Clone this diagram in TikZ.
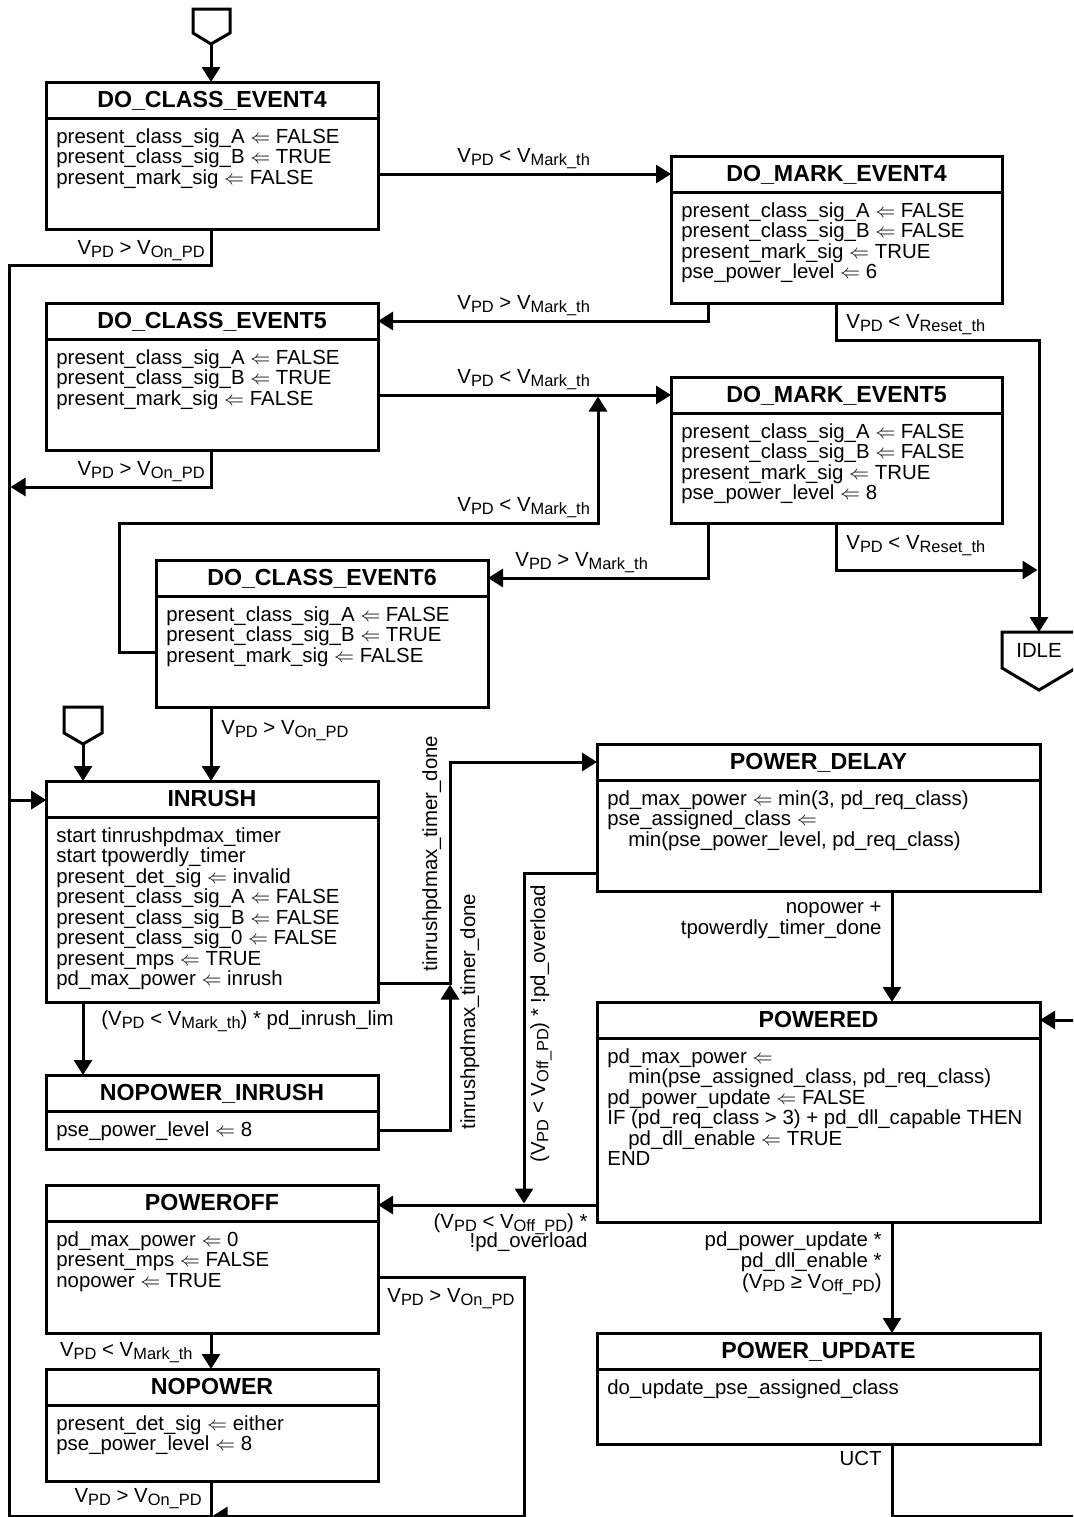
\documentclass[tikz,border=0pt]{standalone}
\usepackage{fontspec}
\setmainfont{Liberation Sans}
\usetikzlibrary{arrows.meta,calc,fit}
\newcommand{\vsb}[1]{\raisebox{-1.7pt}{\fontsize{8.2pt}{9pt}\selectfont #1}}
\newcommand{\la}{$\Leftarrow$}
\newcommand{\ind}{\hspace*{10.5pt}}
\tikzset{
 con/.style={line width=1.5pt},
 arr/.style={line width=1.5pt, -{Triangle[length=7.5pt,width=9pt]}},
 statebox/.style={draw, rectangle, line width=1.5pt, inner sep=0pt, outer sep=0pt},
 ttl/.style={font=\fontsize{11.6pt}{12pt}\selectfont\bfseries, inner sep=0pt},
 bdy/.style={font=\fontsize{10.2pt}{10.25pt}\selectfont, align=left, inner sep=0pt},
 lbl/.style={font=\fontsize{10.2pt}{10.25pt}\selectfont, inner sep=0pt},
}
\newcommand{\mkstate}[7]{%
  \node[statebox, fit={(#2,#3) (#4,#5)}] (#1) {};
  \draw[con] ($(#1.north west)+(0,36.5)$) -- ($(#1.north east)+(0,36.5)$);
  \node[ttl, anchor=base] (#1-t) at ($(#1.north)+(0,25)$) {#6};
  \node[bdy, anchor=north west] (#1-b) at ($(#1.north west)+(10,46)$) {#7};
}
\begin{document}
\begin{tikzpicture}[x=0.5pt,y=-0.5pt]
\useasboundingbox (0,0) rectangle (1073,1517);
\fill[white] (0,0) rectangle (1073,1517);
\clip (0,0) rectangle (1073,1517);

% states
\mkstate{dce4}{46}{82}{378}{229}{DO\_CLASS\_EVENT4}{present\_class\_sig\_A \la{} FALSE\\present\_class\_sig\_B \la{} TRUE\\present\_mark\_sig \la{} FALSE}
\mkstate{dce5}{46}{303}{378}{450}{DO\_CLASS\_EVENT5}{present\_class\_sig\_A \la{} FALSE\\present\_class\_sig\_B \la{} TRUE\\present\_mark\_sig \la{} FALSE}
\mkstate{dme4}{671}{156}{1002}{303}{DO\_MARK\_EVENT4}{present\_class\_sig\_A \la{} FALSE\\present\_class\_sig\_B \la{} FALSE\\present\_mark\_sig \la{} TRUE\\pse\_power\_level \la{} 6}
\mkstate{dme5}{671}{377}{1002}{523}{DO\_MARK\_EVENT5}{present\_class\_sig\_A \la{} FALSE\\present\_class\_sig\_B \la{} FALSE\\present\_mark\_sig \la{} TRUE\\pse\_power\_level \la{} 8}
\mkstate{dce6}{156}{560}{488}{707}{DO\_CLASS\_EVENT6}{present\_class\_sig\_A \la{} FALSE\\present\_class\_sig\_B \la{} TRUE\\present\_mark\_sig \la{} FALSE}
\mkstate{inrush}{46}{781}{378}{1002}{INRUSH}{start tinrushpdmax\_timer\\start tpowerdly\_timer\\present\_det\_sig \la{} invalid\\present\_class\_sig\_A \la{} FALSE\\present\_class\_sig\_B \la{} FALSE\\present\_class\_sig\_0 \la{} FALSE\\present\_mps \la{} TRUE\\pd\_max\_power \la{} inrush}
\mkstate{npinrush}{46}{1075}{378}{1149}{NOPOWER\_INRUSH}{pse\_power\_level \la{} 8}
\mkstate{pdelay}{597}{744}{1040}{891}{POWER\_DELAY}{pd\_max\_power \la{} min(3, pd\_req\_class)\\pse\_assigned\_class \la{}\\\ind min(pse\_power\_level, pd\_req\_class)}
\mkstate{powered}{597}{1002}{1040}{1222}{POWERED}{pd\_max\_power \la{}\\\ind min(pse\_assigned\_class, pd\_req\_class)\\pd\_power\_update \la{} FALSE\\IF (pd\_req\_class > 3) + pd\_dll\_capable THEN\\\ind pd\_dll\_enable \la{} TRUE\\END}
\mkstate{pupdate}{597}{1333}{1040}{1444}{POWER\_UPDATE}{do\_update\_pse\_assigned\_class}
\mkstate{poweroff}{46}{1185}{378}{1333}{POWEROFF}{pd\_max\_power \la{} 0\\present\_mps \la{} FALSE\\nopower \la{} TRUE}
\mkstate{nopower}{46}{1369}{378}{1481}{NOPOWER}{present\_det\_sig \la{} either\\pse\_power\_level \la{} 8}

% entry / exit symbols
\coordinate (i1) at (211,44);
\coordinate (i2) at (83,744);
\draw[con] (193,9) -- (230,9) -- (230,33) -- (i1) -- (193,33) -- cycle;
\draw[con] (64,707) -- (102,707) -- (102,733) -- (i2) -- (64,733) -- cycle;
\coordinate (idleT) at (1039,632);
\draw[con] (1002,632) -- (1076,632) -- (1076,668) -- (1039,690) -- (1002,668) -- cycle;
\node[lbl, anchor=base] (idle) at (1039,657) {IDLE};

% junction points
\coordinate (j1) at (1037.5,570);
\coordinate (j2) at (598,396.5);
\coordinate (j3) at (450,984.5);
\coordinate (j4) at (524,1203.5);
\coordinate (j5) at (212.5,1516);
\coordinate (j6) at (10.5,487);

% connectors
\draw[arr] (i1) -- (i1 |- dce4.north);
\draw[arr] (i2) -- (i2 |- inrush.north);
\draw[arr] (dce4.south -| 211,0) -- (211,265) -- (9,265) -- (9,800) -- (inrush.west |- 0,800);
\draw[arr] (dce5.south -| 211,0) -- (211,487) -- (j6);
\draw[arr] (dce4.east |- 0,174) -- (dme4.west |- 0,174);
\draw[arr] (dme4.south -| 708,0) -- (708,321) -- (dce5.east |- 0,321);
\draw[arr] (dme4.south -| 836,0) -- (836,340) -- (1039,340) -- (idleT);
\draw[arr] (dce5.east |- 0,395) -- (dme5.west |- 0,395);
\draw[arr] (dme5.south -| 708,0) -- (708,578) -- (dce6.east |- 0,578);
\draw[arr] (dme5.south -| 836,0) -- (836,570) -- (j1);
\draw[arr] (dce6.west |- 0,652) -- (119,652) -- (119,523) -- (598,523) -- (j2);
\draw[arr] (dce6.south -| 211,0) -- (inrush.north -| 211,0);
\draw[arr] (inrush.east |- 0,983) -- (450,983) -- (450,762) -- (pdelay.west |- 0,762);
\draw[arr] (inrush.south -| 83,0) -- (npinrush.north -| 83,0);
\draw[arr] (npinrush.east |- 0,1130) -- (450,1130) -- (j3);
\draw[arr] (pdelay.west |- 0,873) -- (524,873) -- (j4);
\draw[arr] (pdelay.south -| 892,0) -- (powered.north -| 892,0);
\draw[arr] (powered.west |- 0,1205) -- (poweroff.east |- 0,1205);
\draw[arr] (powered.south -| 892,0) -- (pupdate.north -| 892,0);
\draw[arr] (pupdate.south -| 892,0) -- (892,1516) -- (1100,1516) -- (1100,1020) -- (powered.east |- 0,1020);
\draw[arr] (poweroff.south -| 211,0) -- (nopower.north -| 211,0);
\draw[arr] (poweroff.east |- 0,1277) -- (524,1277) -- (524,1516) -- (j5);
\draw[arr] (nopower.south -| 211,0) -- (211,1516) -- (9,1516) -- (9,800) -- (inrush.west |- 0,800);

% labels
\node[lbl, anchor=base west] (l1) at (457,162.5) {V\vsb{PD} < V\vsb{Mark\_th}};
\node[lbl, anchor=base west] (l2) at (457,309.5) {V\vsb{PD} > V\vsb{Mark\_th}};
\node[lbl, anchor=base west] (l3) at (457,383.5) {V\vsb{PD} < V\vsb{Mark\_th}};
\node[lbl, anchor=base west] (l4) at (457,511.5) {V\vsb{PD} < V\vsb{Mark\_th}};
\node[lbl, anchor=base west] (l5) at (515,566.5) {V\vsb{PD} > V\vsb{Mark\_th}};
\node[lbl, anchor=base west] (l6) at (846,328) {V\vsb{PD} < V\vsb{Reset\_th}};
\node[lbl, anchor=base west] (l7) at (846,549) {V\vsb{PD} < V\vsb{Reset\_th}};
\node[lbl, anchor=base east] (l8) at (205,254) {V\vsb{PD} > V\vsb{On\_PD}};
\node[lbl, anchor=base east] (l9) at (205,475) {V\vsb{PD} > V\vsb{On\_PD}};
\node[lbl, anchor=base west] (l10) at (221,734) {V\vsb{PD} > V\vsb{On\_PD}};
\node[lbl, anchor=base west] (l11) at (101,1025) {(V\vsb{PD} < V\vsb{Mark\_th}) * pd\_inrush\_lim};
\node[lbl, anchor=base east] (l12) at (193,1356) {V\vsb{PD} < V\vsb{Mark\_th}};
\node[lbl, anchor=base west] (l13) at (387,1302) {V\vsb{PD} > V\vsb{On\_PD}};
\node[lbl, anchor=base east] (l14) at (202,1502) {V\vsb{PD} > V\vsb{On\_PD}};
\node[lbl, anchor=base east] (l15a) at (588,1228) {(V\vsb{PD} < V\vsb{Off\_PD}) *};
\node[lbl, anchor=base east] (l15b) at (588,1247) {!pd\_overload};
\node[lbl, anchor=base east] (l16a) at (882,913) {nopower +};
\node[lbl, anchor=base east] (l16b) at (882,934) {tpowerdly\_timer\_done};
\node[lbl, anchor=base east] (l17a) at (882,1246) {pd\_power\_update *};
\node[lbl, anchor=base east] (l17b) at (882,1267) {pd\_dll\_enable *};
\node[lbl, anchor=base east] (l17c) at (882,1288) {(V\vsb{PD} ≥ V\vsb{Off\_PD})};
\node[lbl, anchor=base east] (l18) at (882,1465) {UCT};
\node[lbl, rotate=90, anchor=base west] (l19) at (437,972) {tinrushpdmax\_timer\_done};
\node[lbl, rotate=90, anchor=base west] (l20) at (475,1130) {tinrushpdmax\_timer\_done};
\node[lbl, rotate=90, anchor=base west] (l21) at (545,1163) {(V\vsb{PD} < V\vsb{Off\_PD}) * !pd\_overload};
\end{tikzpicture}
\end{document}
